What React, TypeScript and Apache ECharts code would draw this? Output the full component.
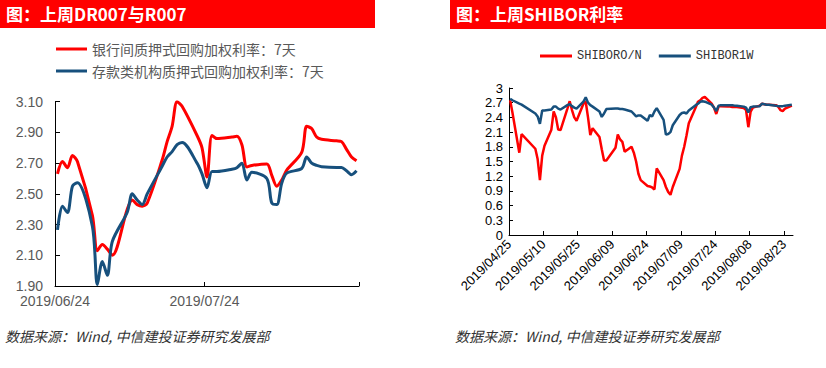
import React, { useEffect, useRef } from "react";
import * as echarts from "echarts";

// ---------- Left chart data (R007 / DR007) ----------
const leftDates = [
  "2019/06/24", "2019/06/25", "2019/06/26", "2019/06/27", "2019/06/28",
  "2019/07/01", "2019/07/02", "2019/07/03", "2019/07/04", "2019/07/05",
  "2019/07/08", "2019/07/09", "2019/07/10", "2019/07/11", "2019/07/12",
  "2019/07/15", "2019/07/16", "2019/07/17", "2019/07/18", "2019/07/19",
  "2019/07/22", "2019/07/23", "2019/07/24", "2019/07/25", "2019/07/26",
  "2019/07/29", "2019/07/30", "2019/07/31", "2019/08/01", "2019/08/02",
  "2019/08/05", "2019/08/06", "2019/08/07", "2019/08/08", "2019/08/09",
  "2019/08/12", "2019/08/13", "2019/08/14", "2019/08/15", "2019/08/16",
  "2019/08/19", "2019/08/20", "2019/08/21", "2019/08/22", "2019/08/23",
];
const r007 = [
  2.63, 2.71, 2.67, 2.75, 2.71,
  2.36, 2.13, 2.17, 2.14, 2.10,
  2.40, 2.46, 2.43, 2.42, 2.44,
  2.72, 2.84, 2.94, 3.10, 3.07,
  2.88, 2.80, 2.61, 2.88, 2.86,
  2.87, 2.875, 2.82, 2.675, 2.685,
  2.695, 2.62, 2.55, 2.59, 2.655,
  2.77, 2.94, 2.925, 2.87, 2.855,
  2.845, 2.84, 2.79, 2.74, 2.715,
];
const dr007 = [
  2.265, 2.42, 2.378, 2.55, 2.573,
  2.29, 1.91, 2.06, 1.97, 2.19,
  2.38, 2.50, 2.46, 2.43, 2.50,
  2.68, 2.74, 2.775, 2.82, 2.835,
  2.70, 2.63, 2.54, 2.645, 2.645,
  2.66, 2.67, 2.70, 2.59, 2.64,
  2.60, 2.44, 2.43, 2.57, 2.635,
  2.665, 2.74, 2.70, 2.685, 2.677,
  2.672, 2.672, 2.65, 2.625, 2.65,
];
const leftStart = "2019/06/24";
const leftEnd = "2019/08/24";
const leftTickDates = ["2019/06/24", "2019/07/24", "2019/08/24"];
const leftXLabels = ["2019/06/24", "2019/07/24"];
const leftYTicks = [1.9, 2.1, 2.3, 2.5, 2.7, 2.9, 3.1];
const leftNames = ["银行间质押式回购加权利率：7天", "存款类机构质押式回购加权利率：7天"];

// ---------- Right chart data (SHIBOR) ----------
const rightDates = [
  "2019/04/25", "2019/04/26", "2019/04/29", "2019/04/30",
  "2019/05/06", "2019/05/07", "2019/05/08", "2019/05/09", "2019/05/10",
  "2019/05/13", "2019/05/14", "2019/05/15", "2019/05/16", "2019/05/17",
  "2019/05/20", "2019/05/21", "2019/05/22", "2019/05/23", "2019/05/24",
  "2019/05/27", "2019/05/28", "2019/05/29", "2019/05/30", "2019/05/31",
  "2019/06/03", "2019/06/04", "2019/06/05", "2019/06/06",
  "2019/06/10", "2019/06/11", "2019/06/12", "2019/06/13", "2019/06/14",
  "2019/06/17", "2019/06/18", "2019/06/19", "2019/06/20", "2019/06/21",
  "2019/06/24", "2019/06/25", "2019/06/26", "2019/06/27", "2019/06/28",
  "2019/07/01", "2019/07/02", "2019/07/03", "2019/07/04", "2019/07/05",
  "2019/07/08", "2019/07/09", "2019/07/10", "2019/07/11", "2019/07/12",
  "2019/07/15", "2019/07/16", "2019/07/17", "2019/07/18", "2019/07/19",
  "2019/07/22", "2019/07/23", "2019/07/24", "2019/07/25", "2019/07/26",
  "2019/07/29", "2019/07/30", "2019/07/31", "2019/08/01", "2019/08/02",
  "2019/08/05", "2019/08/06", "2019/08/07", "2019/08/08", "2019/08/09",
  "2019/08/12", "2019/08/13", "2019/08/14", "2019/08/15", "2019/08/16",
  "2019/08/19", "2019/08/20", "2019/08/21", "2019/08/22", "2019/08/23",
  "2019/08/26",
];
const shiborON = [
  2.75, 2.50, 1.68, 2.06,
  1.76, 1.55, 1.12, 1.62, 1.82,
  2.15, 2.52, 2.40, 2.15, 2.14,
  2.58, 2.73, 2.55, 2.40, 2.33,
  2.68, 2.72, 2.40, 2.04, 2.18,
  2.00, 1.75, 1.52, 1.52,
  1.78, 2.05, 1.95, 1.90, 1.70,
  1.80, 1.68, 1.50, 1.25, 1.12,
  1.00, 0.99, 0.97, 0.93, 1.36,
  1.12, 0.98, 0.88, 0.82, 0.98,
  1.35, 1.62, 1.80, 2.03, 2.28,
  2.60, 2.72, 2.75, 2.80, 2.82,
  2.68, 2.60, 2.47, 2.62, 2.63,
  2.62, 2.62, 2.61, 2.61, 2.61,
  2.59, 2.55, 2.20, 2.52, 2.60,
  2.64, 2.68, 2.67, 2.66, 2.66,
  2.65, 2.62, 2.55, 2.53, 2.58,
  2.64,
];
const shibor1W = [
  2.78, 2.75, 2.68, 2.66,
  2.48, 2.42, 2.27, 2.54, 2.54,
  2.56, 2.62, 2.62, 2.58, 2.56,
  2.65, 2.67, 2.63, 2.60, 2.58,
  2.72, 2.81, 2.70, 2.65, 2.62,
  2.52, 2.41, 2.48, 2.57,
  2.58, 2.58, 2.57, 2.57, 2.56,
  2.52, 2.47, 2.42, 2.44, 2.44,
  2.33, 2.45, 2.42, 2.52, 2.59,
  2.35, 2.05, 2.06, 2.10, 2.24,
  2.45, 2.49, 2.50, 2.48, 2.54,
  2.65, 2.68, 2.72, 2.73, 2.72,
  2.66, 2.60, 2.53, 2.64, 2.65,
  2.65, 2.65, 2.65, 2.64, 2.64,
  2.62, 2.60, 2.50, 2.61, 2.62,
  2.63, 2.68, 2.67, 2.66, 2.66,
  2.64, 2.63, 2.63, 2.63, 2.64,
  2.66,
];
const rightStart = "2019/04/25";
const rightEnd = "2019/08/27";
const rightXLabels = [
  "2019/04/25", "2019/05/10", "2019/05/25", "2019/06/09", "2019/06/24",
  "2019/07/09", "2019/07/24", "2019/08/08", "2019/08/23",
];
const rightNames = ["SHIBORO/N", "SHIBOR1W"];

const titleLeft = "图：上周DR007与R007";
const titleRight = "图：上周SHIBOR利率";
const sourceText = "数据来源：Wind, 中信建投证券研究发展部";

const RED = "#FF0000";
const BLUE = "#17507D";

const dayMs = 86400000;
const parse = (s: string) => {
  const [y, m, d] = s.split("/").map(Number);
  return Date.UTC(y, m - 1, d);
};
const offset = (s: string, start: string) => (parse(s) - parse(start)) / dayMs;

export default function App() {
  const ref = useRef<HTMLDivElement>(null);
  useEffect(() => {
    if (!ref.current) return;
    const chart = echarts.init(ref.current, null, { renderer: "svg" });

    const leftMax = offset(leftEnd, leftStart);
    const leftTickVals = leftTickDates.map((d) => offset(d, leftStart));
    const leftLabelVals = leftXLabels.map((d) => offset(d, leftStart));
    const rightMax = offset(rightEnd, rightStart);
    const rightLabelVals = rightXLabels.map((d) => offset(d, rightStart));

    const leftLabelMap: Record<string, string> = {};
    leftXLabels.forEach((l, i) => (leftLabelMap[String(leftLabelVals[i])] = l));
    const rightLabelMap: Record<string, string> = {};
    rightXLabels.forEach((l, i) => (rightLabelMap[String(rightLabelVals[i])] = l));

    const leftPts = (vals: number[]) =>
      leftDates.map((d, i) => [offset(d, leftStart) + 0.5, vals[i]]);
    const rightPts = (vals: number[]) =>
      rightDates.map((d, i) => [offset(d, rightStart) + 0.5, vals[i]]);

    const axisLineStyle = { color: "#000", width: 1 };

    chart.setOption({
      animation: false,
      backgroundColor: "#fff",
      grid: [
        { left: 55, top: 101.7, width: 304, height: 184.3 },
        { left: 509, top: 88, width: 284, height: 147 },
      ],
      legend: [
        {
          data: leftNames,
          orient: "vertical",
          left: 51,
          top: 37,
          icon: "rect",
          itemWidth: 31,
          itemHeight: 3,
          itemGap: 8,
          textStyle: { fontSize: 14, color: "#595959", fontFamily: "Noto Sans CJK SC" },
        },
        {
          data: rightNames,
          orient: "horizontal",
          left: 535,
          top: 45,
          icon: "rect",
          itemWidth: 32,
          itemHeight: 3,
          itemGap: 17,
          textStyle: { fontSize: 12, color: "#333", fontFamily: "Liberation Mono" },
        },
      ],
      xAxis: [
        {
          gridIndex: 0,
          type: "value",
          min: 0,
          max: leftMax,
          axisLine: { show: true, lineStyle: axisLineStyle },
          axisTick: { show: true, inside: true, length: 4, customValues: leftTickVals, lineStyle: axisLineStyle },
          axisLabel: {
            customValues: leftLabelVals,
            formatter: (v: number) => leftLabelMap[String(v)] ?? "",
            fontSize: 14,
            color: "#595959",
            fontFamily: "Liberation Sans",
            margin: 8,
          },
          splitLine: { show: false },
        },
        {
          gridIndex: 1,
          type: "value",
          min: 0,
          max: rightMax,
          axisLine: { show: true, lineStyle: axisLineStyle },
          axisTick: { show: true, inside: true, length: 4, customValues: rightLabelVals, lineStyle: axisLineStyle },
          axisLabel: {
            customValues: rightLabelVals,
            formatter: (v: number) => rightLabelMap[String(v)] ?? "",
            rotate: 45,
            fontSize: 13,
            color: "#000",
            fontFamily: "Liberation Sans",
            margin: 7,
          },
          splitLine: { show: false },
        },
      ],
      yAxis: [
        {
          gridIndex: 0,
          type: "value",
          min: 1.9,
          max: 3.1,
          axisLine: { show: true, lineStyle: axisLineStyle },
          axisTick: { show: true, inside: true, length: 5, customValues: leftYTicks, lineStyle: axisLineStyle },
          axisLabel: {
            customValues: leftYTicks,
            formatter: (v: number) => v.toFixed(2),
            fontSize: 14,
            color: "#595959",
            fontFamily: "Liberation Sans",
            margin: 12,
          },
          splitLine: { show: false },
        },
        {
          gridIndex: 1,
          type: "value",
          min: 0,
          max: 3,
          interval: 0.3,
          axisLine: { show: true, lineStyle: axisLineStyle },
          axisTick: { show: true, inside: true, length: 4, lineStyle: axisLineStyle },
          axisLabel: {
            formatter: (v: number) => String(Math.round(v * 10) / 10),
            fontSize: 13,
            color: "#000",
            fontFamily: "Liberation Sans",
            margin: 6,
          },
          splitLine: { show: false },
        },
      ],
      series: [
        {
          name: leftNames[0],
          type: "line",
          xAxisIndex: 0,
          yAxisIndex: 0,
          data: leftPts(r007),
          color: RED,
          showSymbol: false,
          smooth: 0.3,
          lineStyle: { width: 3, color: RED },
          z: 3,
        },
        {
          name: leftNames[1],
          type: "line",
          xAxisIndex: 0,
          yAxisIndex: 0,
          data: leftPts(dr007),
          color: BLUE,
          showSymbol: false,
          smooth: 0.3,
          lineStyle: { width: 3, color: BLUE },
          z: 4,
        },
        {
          name: rightNames[0],
          type: "line",
          xAxisIndex: 1,
          yAxisIndex: 1,
          data: rightPts(shiborON),
          color: RED,
          showSymbol: false,
          lineStyle: { width: 2.5, color: RED },
          z: 3,
        },
        {
          name: rightNames[1],
          type: "line",
          xAxisIndex: 1,
          yAxisIndex: 1,
          data: rightPts(shibor1W),
          color: BLUE,
          showSymbol: false,
          lineStyle: { width: 2.5, color: BLUE },
          z: 4,
        },
      ],
      graphic: [
        { type: "rect", left: 0, top: 0, shape: { width: 375, height: 28 }, style: { fill: RED }, silent: true },
        { type: "rect", left: 450, top: 0, shape: { width: 376, height: 29 }, style: { fill: RED }, silent: true },
        {
          type: "text",
          left: 6,
          top: 5,
          style: { text: titleLeft, fill: "#fff", font: 'bold 17px "Noto Sans CJK SC"' },
        },
        {
          type: "text",
          left: 456,
          top: 5,
          style: { text: titleRight, fill: "#fff", font: 'bold 17px "Noto Sans CJK SC"' },
        },
        {
          type: "text",
          left: 5,
          top: 329,
          style: { text: sourceText, fill: "#333", font: 'italic 14px "Noto Sans CJK SC"' },
        },
        {
          type: "text",
          left: 455,
          top: 329,
          style: { text: sourceText, fill: "#333", font: 'italic 14px "Noto Sans CJK SC"' },
        },
      ],
    });
    return () => chart.dispose();
  }, []);
  return (
    <div
      ref={ref}
      style={{ position: "fixed", left: 0, top: 0, width: 826, height: 368, background: "#fff" }}
    />
  );
}
